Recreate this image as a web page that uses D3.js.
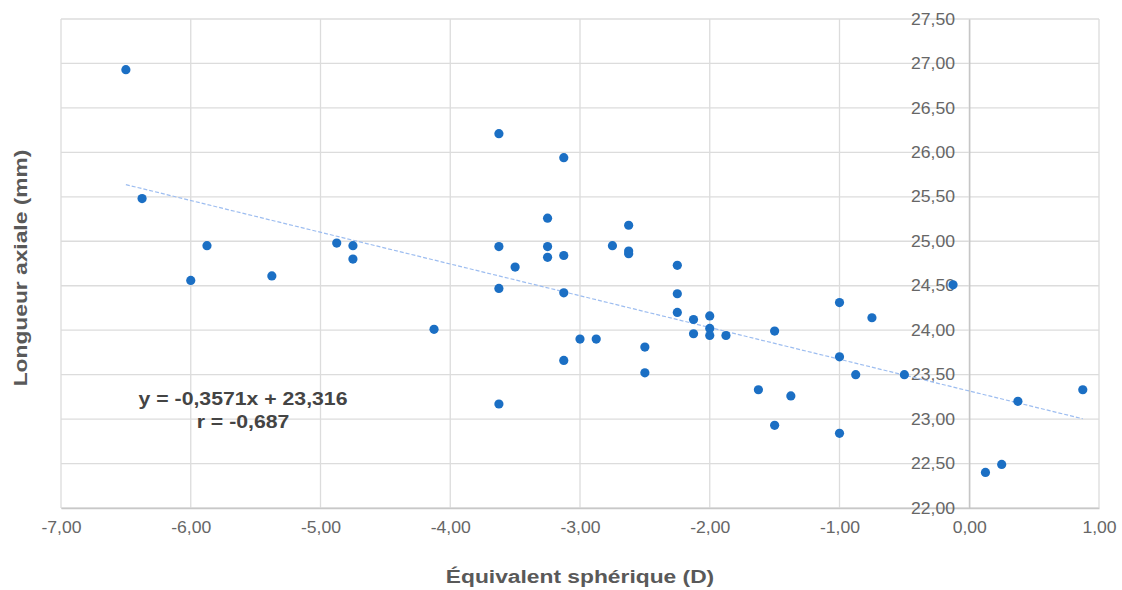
<!DOCTYPE html>
<html>
<head>
<meta charset="utf-8">
<script src="https://cdn.jsdelivr.net/npm/d3@7"></script>
<style>
  body { margin: 0; background: #fff; }
  svg { display: block; font-family: "Liberation Sans", Arial, sans-serif; }
</style>
</head>
<body>
<div id="chart"></div>
<script>
// équivalent sphérique (D)
var seValues = [-6.5, -6.375, -5.875, -6.0, -5.375, -4.875, -4.75, -4.75, -4.125,
  -3.625, -3.625, -3.625, -3.625, -3.5, -3.125, -3.25, -3.25, -3.25, -3.125, -3.125, -3.125,
  -3.0, -2.875, -2.75, -2.625, -2.625, -2.625, -2.5, -2.5, -2.25, -2.25, -2.25,
  -2.125, -2.125, -2.0, -2.0, -2.0, -1.875, -1.625, -1.5, -1.5, -1.375,
  -1.0, -1.0, -1.0, -0.875, -0.75, -0.5, -0.125, 0.125, 0.25, 0.375, 0.875];
// longueur axiale (mm)
var alValues = [26.93, 25.48, 24.95, 24.56, 24.61, 24.98, 24.95, 24.80, 24.01,
  26.21, 24.94, 24.47, 23.17, 24.71, 25.94, 25.26, 24.94, 24.82, 24.84, 24.42, 23.66,
  23.90, 23.90, 24.95, 25.18, 24.89, 24.86, 23.81, 23.52, 24.73, 24.41, 24.20,
  24.12, 23.96, 24.16, 24.02, 23.94, 23.94, 23.33, 23.99, 22.93, 23.26,
  24.31, 23.70, 22.84, 23.50, 24.14, 23.50, 24.51, 22.40, 22.49, 23.20, 23.33];

var xTicks = [-7, -6, -5, -4, -3, -2, -1, 0, 1];
var yTicks = [22, 22.5, 23, 23.5, 24, 24.5, 25, 25.5, 26, 26.5, 27, 27.5];
var slope = -0.3571, intercept = 23.316;
var equationLines = ["y = -0,3571x + 23,316", "r = -0,687"];
var xTitle = "Équivalent sphérique (D)";
var yTitle = "Longueur axiale (mm)";

var width = 1122, height = 590;
var margin = {left: 61, right: 23, top: 19, bottom: 82};

var svg = d3.select('#chart').append('svg')
  .attr('width', width).attr('height', height);

var x = d3.scaleLinear().domain([-7, 1]).range([margin.left, width - margin.right]);
var y = d3.scaleLinear().domain([22, 27.5]).range([height - margin.bottom, margin.top]);

var locale = d3.formatLocale({decimal: ",", thousands: " ", grouping: [3], currency: ["", ""], minus: "-"});
var fmt = locale.format(".2f");

// grille
svg.append('g').selectAll('line.v').data(xTicks).enter().append('line')
  .attr('x1', function (d) { return x(d); }).attr('x2', function (d) { return x(d); })
  .attr('y1', y(27.5)).attr('y2', y(22))
  .attr('stroke', '#dcdcdc').attr('stroke-width', 1.3);
svg.append('g').selectAll('line.h').data(yTicks).enter().append('line')
  .attr('x1', x(-7)).attr('x2', x(1))
  .attr('y1', function (d) { return y(d); }).attr('y2', function (d) { return y(d); })
  .attr('stroke', '#dcdcdc').attr('stroke-width', 1.3);

// axes
var xAxis = svg.append('g')
  .attr('transform', 'translate(0,' + y(22) + ')')
  .call(d3.axisBottom(x).tickValues(xTicks).tickFormat(fmt).tickSize(0).tickPadding(14));
xAxis.select('.domain').attr('stroke', '#c8c8c8').attr('stroke-width', 1.3);
xAxis.selectAll('text').attr('fill', '#666').attr('font-size', 16)
  .attr('transform', 'scale(1.1,1)');

var yAxis = svg.append('g')
  .attr('transform', 'translate(' + x(0) + ',0)')
  .call(d3.axisLeft(y).tickValues(yTicks).tickFormat(fmt).tickSize(0).tickPadding(13));
yAxis.select('.domain').attr('stroke', '#c4c4c4').attr('stroke-width', 1.3);
yAxis.selectAll('text').attr('fill', '#666').attr('font-size', 16)
  .attr('transform', 'scale(1.1,1)');

// droite de régression
var xr = d3.extent(seValues);
var line = d3.line().x(function (d) { return x(d); }).y(function (d) { return y(slope * d + intercept); });
svg.append('path').datum(xr)
  .attr('d', line)
  .attr('fill', 'none')
  .attr('stroke', '#9dbdf0')
  .attr('stroke-width', 1.2)
  .attr('stroke-dasharray', '4,2');

// points
svg.append('g').selectAll('circle').data(d3.zip(seValues, alValues)).enter().append('circle')
  .attr('cx', function (d) { return x(d[0]); })
  .attr('cy', function (d) { return y(d[1]); })
  .attr('r', 4.6)
  .attr('fill', '#1b6fc4');

// équation
svg.append('g').selectAll('text').data(equationLines).enter().append('text')
  .attr('transform', function (d, i) { return 'translate(243,' + (405 + i * 23) + ') scale(1.18,1)'; })
  .attr('text-anchor', 'middle')
  .attr('font-size', 18).attr('font-weight', 'bold').attr('fill', '#444')
  .text(function (d) { return d; });

// titres
svg.append('text')
  .attr('transform', 'translate(' + ((x(-7) + x(1)) / 2) + ',583) scale(1.2,1)')
  .attr('text-anchor', 'middle')
  .attr('font-size', 19).attr('font-weight', 'bold').attr('fill', '#595959')
  .text(xTitle);
svg.append('text')
  .attr('transform', 'translate(27,268) rotate(-90) scale(1.2,1)')
  .attr('text-anchor', 'middle')
  .attr('font-size', 19).attr('font-weight', 'bold').attr('fill', '#595959')
  .text(yTitle);
</script>
</body>
</html>
